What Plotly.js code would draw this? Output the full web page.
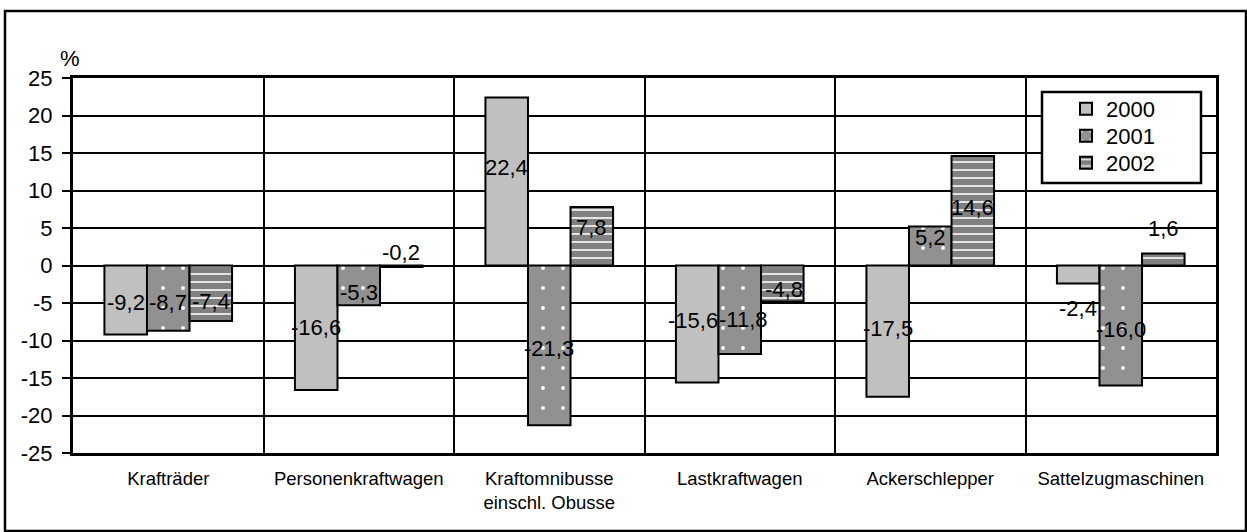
<!DOCTYPE html>
<html>
<head>
<meta charset="utf-8">
<script src="https://cdn.plot.ly/plotly-3.0.1.min.js"></script>
<style>html,body{margin:0;padding:0;background:#fff;}#chart{width:1247px;height:532px;}</style>
</head>
<body>
<div id="chart"></div>
<script>
// ---- data ----
const categories = ["Krafträder", "Personenkraftwagen", "Kraftomnibusse<br>einschl. Obusse", "Lastkraftwagen", "Ackerschlepper", "Sattelzugmaschinen"];
const seriesNames = ["2000", "2001", "2002"];
const values2000 = [-9.2, -16.6, 22.4, -15.6, -17.5, -2.4];
const values2001 = [-8.7, -5.3, -21.3, -11.8, 5.2, -16.0];
const values2002 = [-7.4, -0.2, 7.8, -4.8, 14.6, 1.6];
const yTicks = [-25, -20, -15, -10, -5, 0, 5, 10, 15, 20, 25];

// ---- layout constants ----
const FONT = "Liberation Sans, Arial, sans-serif";
const L = 73, R = 31, T = 78, B = 79, W = 1247, H = 532;
const plotW = W - L - R, plotH = H - T - B;
const bargap = 0.33;
const barW = (1 - bargap) / 3;
// pixel nudges of the value labels (rows: category, cols: series), positive = down / right
const labelNudge = [[2, 4, 8], [0, 7, -14], [-14, 3, -9], [-4, 10, 6], [-3, -9, -3], [34, 4, -31]];
const labelNudgeX = [[0, 0, 0], [0, 0, 0], [0, 0, 0], [-4, 4, 2], [0, 0, 0], [0, 0, 0]];
const legendRowsPx = [109, 136, 163];

const px = x => (x - L) / plotW;
const py = y => (H - B - y) / plotH;

const allValues = [values2000, values2001, values2002];
const styles = [
  {color: "#c0c0c0", pattern: {shape: ""}},
  {color: "#919191", pattern: {shape: ".", fgcolor: "#ffffff", bgcolor: "#919191", size: 20, solidity: 0.03, fillmode: "replace"}},
  {color: "#808080", pattern: {shape: "-", fgcolor: "#e4e4e4", bgcolor: "#808080", size: 8, solidity: 0.25, fillmode: "replace"}}
];
const legendIds = ["legend", "legend2", "legend3"];

const traces = allValues.map((vals, i) => ({
  type: "bar",
  name: seriesNames[i],
  x: categories,
  y: vals,
  legend: legendIds[i],
  marker: {color: styles[i].color, pattern: styles[i].pattern, line: {color: "#000", width: 2}},
  hoverinfo: "x+y+name"
}));

const fmt = v => v.toFixed(1).replace(".", ",");
const annotations = [];
allValues.forEach((vals, i) => {
  vals.forEach((v, j) => {
    annotations.push({
      x: j + (i - 1) * barW, y: v / 2, xref: "x", yref: "y",
      text: fmt(v), showarrow: false,
      yshift: -labelNudge[j][i], xshift: labelNudgeX[j][i],
      font: {family: FONT, size: 22, color: "#000"}
    });
  });
});
annotations.push({
  xref: "paper", yref: "paper", x: px(70), y: py(58), xanchor: "center", yanchor: "middle",
  text: "%", showarrow: false, font: {family: FONT, size: 22, color: "#000"}
});

const layout = {
  width: W, height: H,
  margin: {l: L, r: R, t: T, b: B, pad: 0},
  paper_bgcolor: "#fff", plot_bgcolor: "#fff",
  font: {family: FONT, size: 22, color: "#000"},
  barmode: "group", bargap: bargap, bargroupgap: 0,
  showlegend: true,
  xaxis: {
    type: "category", tickson: "boundaries",
    showgrid: true, gridcolor: "#000", gridwidth: 2,
    ticks: "", showline: true, linecolor: "#000", linewidth: 3, mirror: true,
    tickfont: {family: FONT, size: 18.5, color: "#000"},
    ticklabelstandoff: 7,
    fixedrange: true
  },
  yaxis: {
    range: [-25, 25], tickvals: yTicks, ticktext: yTicks.map(String),
    showgrid: true, gridcolor: "#000", gridwidth: 2, zeroline: false,
    ticks: "outside", ticklen: 8, tickwidth: 2, tickcolor: "#000",
    showline: true, linecolor: "#000", linewidth: 3, mirror: true,
    tickfont: {family: FONT, size: 22, color: "#000"},
    ticklabelstandoff: 5,
    fixedrange: true
  },
  shapes: [
    {type: "rect", xref: "paper", yref: "paper", x0: px(1042), x1: px(1201), y0: py(92), y1: py(183),
     fillcolor: "#fff", line: {color: "#000", width: 2.5}, layer: "above"},
    {type: "rect", xref: "paper", yref: "paper", x0: px(5), x1: px(1246), y0: py(11), y1: py(531),
     fillcolor: "rgba(0,0,0,0)", line: {color: "#000", width: 2.5}, layer: "above"}
  ],
  annotations: annotations
};
legendIds.forEach((id, i) => {
  layout[id] = {
    x: px(1066), y: py(legendRowsPx[i]), xanchor: "left", yanchor: "middle",
    bgcolor: "rgba(0,0,0,0)", borderwidth: 0,
    font: {family: FONT, size: 22, color: "#000"},
    itemclick: false, itemdoubleclick: false
  };
});

Plotly.newPlot("chart", traces, layout, {displayModeBar: false, staticPlot: true});
</script>
</body>
</html>
